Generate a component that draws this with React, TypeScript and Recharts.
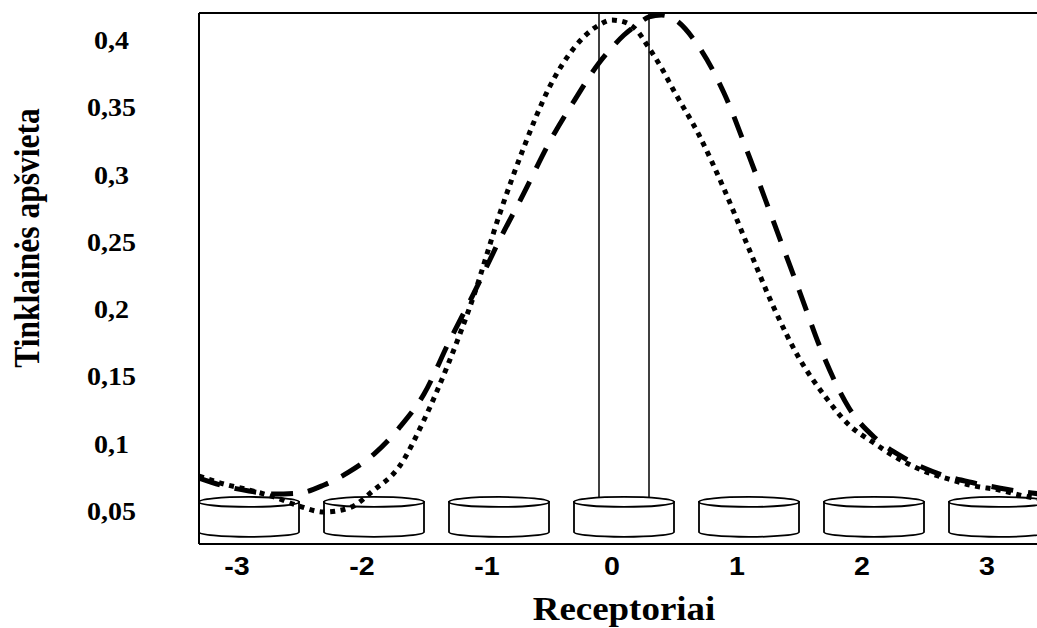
import React from 'react';
import {
  LineChart, Line, XAxis, YAxis, ReferenceArea, ReferenceLine,
} from 'recharts';

// receptor positions along the retina (x) and the two illumination profiles
const xs = [
  -3.4, -3.2, -3.0, -2.8, -2.6, -2.4, -2.2, -2.0, -1.8, -1.6, -1.4, -1.2, -1.0, -0.8, -0.6, -0.4, -0.2,
  -0.1, 0, 0.1, 0.2, 0.3, 0.4,
  0.6, 0.8, 1.0, 1.2, 1.4, 1.6, 1.8, 2.0, 2.2, 2.4, 2.6, 2.8, 3.0, 3.2, 3.4,
];
const dashedValues = [
  0.0775, 0.0716, 0.0678, 0.0656, 0.0663, 0.0723, 0.0820, 0.0953, 0.1146, 0.1399, 0.1786, 0.2150, 0.2536, 0.2893, 0.3264, 0.3576, 0.3859,
  0.3970, 0.4067, 0.4141, 0.4201, 0.4216, 0.4186,
  0.3978, 0.3636, 0.3168, 0.2670, 0.2172, 0.1674, 0.1295, 0.1080, 0.0946, 0.0849, 0.0782, 0.0738, 0.0701, 0.0671, 0.0649,
];
const dottedValues = [
  0.0790, 0.0730, 0.0686, 0.0634, 0.0567, 0.0522, 0.0552, 0.0686, 0.0857, 0.1206, 0.1637, 0.2135, 0.2722, 0.3235, 0.3673, 0.3970, 0.4141,
  0.4178, 0.4164, 0.4104, 0.3970, 0.3822, 0.3651,
  0.3324, 0.2923, 0.2477, 0.2038, 0.1667, 0.1392, 0.1169, 0.1035, 0.0916, 0.0827, 0.0767, 0.0716, 0.0686, 0.0641, 0.0611,
];

// receptors drawn as cylinders
const receptors = [-3, -2, -1, 0, 1, 2, 3];
const receptorHalfWidth = 0.4;
const receptorTop = 0.0634;
const receptorBottom = 0.0337;

// light beam hitting the central receptor
const beamEdges = [-0.2, 0.2];
const beamBottom = 0.0627;

const yTicks = [0.05, 0.1, 0.15, 0.2, 0.25, 0.3, 0.35, 0.4];
const yTickLabels = ['0,05', '0,1', '0,15', '0,2', '0,25', '0,3', '0,35', '0,4'];
const xTicks = [-3, -2, -1, 0, 1, 2, 3];

const Y_MIN = 0.02845;
const Y_MAX = 0.42304;

const data = xs.map((x, i) => ({ x, dashed: dashedValues[i], dotted: dottedValues[i] }));

const Cylinder = (props: any) => {
  const { x, y, width, height } = props;
  const ry = 5;
  const rx = width / 2;
  const cx = x + rx;
  return (
    <g>
      <path
        d={`M${x},${y + ry} L${x},${y + height - ry} A${rx},${ry} 0 0 0 ${x + width},${y + height - ry} L${x + width},${y + ry} Z`}
        fill="#fff"
        stroke="#000"
        strokeWidth={1.8}
      />
      <ellipse cx={cx} cy={y + ry} rx={rx} ry={ry} fill="#fff" stroke="#000" strokeWidth={1.8} />
    </g>
  );
};

const YTick = (props: any) => {
  const { y, payload } = props;
  const idx = yTicks.indexOf(payload.value);
  return (
    <text
      transform={`translate(111.5,${y + 5}) scale(1.12,1)`}
      textAnchor="middle"
      fontFamily="'Liberation Serif', 'Times New Roman', serif"
      fontWeight="bold"
      fontSize={25}
      fill="#000"
    >
      {idx >= 0 ? yTickLabels[idx] : payload.value}
    </text>
  );
};

const XTick = (props: any) => {
  const { x, payload } = props;
  return (
    <text
      transform={`translate(${x - 12},575) scale(1.1,1)`}
      textAnchor="middle"
      fontFamily="'Liberation Sans', Arial, sans-serif"
      fontWeight="bold"
      fontSize={26}
      fill="#000"
    >
      {payload.value}
    </text>
  );
};

const XTitle = () => (
  <text
    transform="translate(624,620) scale(1.12,1)"
    textAnchor="middle"
    fontFamily="'Liberation Serif', 'Times New Roman', serif"
    fontWeight="bold"
    fontSize={33}
    fill="#000"
  >
    Receptoriai
  </text>
);

const YTitle = () => (
  <text
    transform="translate(39,238) scale(1.15,1) rotate(-90)"
    textAnchor="middle"
    fontFamily="'Liberation Serif', 'Times New Roman', serif"
    fontWeight="bold"
    fontSize={31.5}
    fill="#000"
  >
    Tinklainės apšvieta
  </text>
);

export default function App() {
  return (
    <div style={{ position: 'absolute', left: 0, top: 0, width: 1037, height: 628, overflow: 'hidden', background: '#fff' }}>
      <LineChart width={1100} height={628} data={data} margin={{ top: 13, right: 38.5, left: 0, bottom: 0 }}>
        <XAxis
          dataKey="x"
          type="number"
          domain={[-3.4, 3.5]}
          ticks={xTicks}
          allowDataOverflow
          height={84}
          tickLine={false}
          axisLine={{ stroke: '#000', strokeWidth: 2 }}
          tick={<XTick />}
          label={<XTitle />}
        />
        <YAxis
          type="number"
          domain={[Y_MIN, Y_MAX]}
          ticks={yTicks}
          allowDataOverflow
          width={199}
          tickLine={false}
          axisLine={{ stroke: '#000', strokeWidth: 2 }}
          tick={<YTick />}
          label={<YTitle />}
        />
        <ReferenceLine y={Y_MAX} stroke="#000" strokeWidth={2} />
        {receptors.map((r) => (
          <ReferenceArea
            key={r}
            x1={r - receptorHalfWidth}
            x2={r + receptorHalfWidth}
            y1={receptorBottom}
            y2={receptorTop}
            shape={(p: any) => <Cylinder {...p} />}
          />
        ))}
        {beamEdges.map((b) => (
          <ReferenceLine
            key={b}
            segment={[{ x: b, y: beamBottom }, { x: b, y: Y_MAX }]}
            stroke="#000"
            strokeWidth={1.5}
          />
        ))}
        <Line
          type="monotone"
          dataKey="dashed"
          stroke="#000"
          strokeWidth={5}
          strokeDasharray="22 15"
          dot={false}
          isAnimationActive={false}
        />
        <Line
          type="monotone"
          dataKey="dotted"
          stroke="#000"
          strokeWidth={5}
          strokeDasharray="5 5.5"
          dot={false}
          isAnimationActive={false}
        />
      </LineChart>
    </div>
  );
}
